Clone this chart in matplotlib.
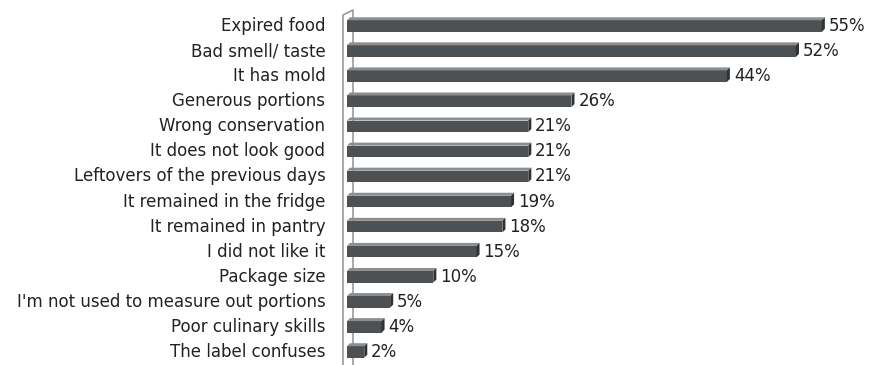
import numpy as np
import matplotlib.pyplot as plt
from matplotlib.patches import Polygon
from matplotlib.lines import Line2D

reasons = ['Expired food', 'Bad smell/ taste', 'It has mold', 'Generous portions',
           'Wrong conservation', 'It does not look good', 'Leftovers of the previous days',
           'It remained in the fridge', 'It remained in pantry', 'I did not like it',
           'Package size', "I'm not used to measure out portions", 'Poor culinary skills',
           'The label confuses']
percent = [55, 52, 44, 26, 21, 21, 21, 19, 18, 15, 10, 5, 4, 2]

W, H = 873, 365
fig = plt.figure(figsize=(W / 100, H / 100), dpi=100)

# side wall of the chart (behind the bars)
wall = '#9a9a9a'
fig.add_artist(Line2D([343 / W, 343 / W, 353 / W, 353 / W],
                      [0, 1 - 15 / H, 1 - 10 / H, 0], color=wall, lw=1.2, zorder=0))

ax = fig.add_axes([347 / W, 0.5 / H, 518 / W, 351 / H])
ax.set_zorder(1)
ax.patch.set_alpha(0)

y = np.arange(len(reasons))
bh = 0.46
front = '#4e5153'
top_c = '#8c8f91'
side_c = '#2f3133'

ax.barh(y, percent, height=bh, color=front, zorder=3)

# fake 3d depth (top face and end face)
dx, dy = 0.35, 0.12
for yi, v in zip(y, percent):
    t = yi - bh / 2
    b = yi + bh / 2
    ax.add_patch(Polygon([(0, t), (v, t), (v + dx, t - dy), (dx, t - dy)],
                         closed=True, color=top_c, lw=0, zorder=3))
    ax.add_patch(Polygon([(v, t), (v + dx, t - dy), (v + dx, b - dy), (v, b)],
                         closed=True, color=side_c, lw=0, zorder=3))
    ax.text(v + dx + 0.45, yi, f'{v}%', va='center', ha='left',
            fontsize=12, color='#222222')

ax.set_xlim(0, 60)
ax.set_ylim(len(reasons) - 0.5, -0.5)
ax.axis('off')

for yi, lab in zip(y, reasons):
    ax.text(-2.5, yi, lab, va='center', ha='right', fontsize=12, color='#222222')

fig.savefig('out.png', dpi=100)
